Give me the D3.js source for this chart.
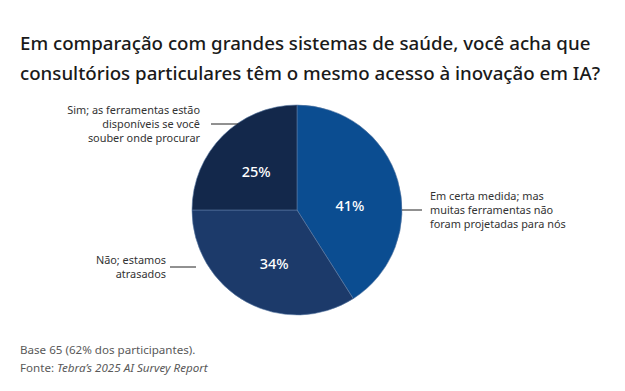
<!DOCTYPE html>
<html><head><meta charset="utf-8">
<script src="https://cdn.jsdelivr.net/npm/d3@7"></script>
<style>
body{margin:0;background:#fff;}
svg{display:block;font-family:"Noto Sans","Open Sans",sans-serif;}
</style></head>
<body>
<svg id="c" width="625" height="391"></svg>
<script>
const categories = [
  "Em certa medida; mas muitas ferramentas não foram projetadas para nós",
  "Não; estamos atrasados",
  "Sim; as ferramentas estão disponíveis se você souber onde procurar"
];
const values = [41, 34, 25];
const colors = ["#0b4d91", "#1c3a6a", "#13284b"];
const labelLines = [
  ["Em certa medida; mas", "muitas ferramentas não", "foram projetadas para nós"],
  ["Não; estamos", "atrasados"],
  ["Sim; as ferramentas estão", "disponíveis se você", "souber onde procurar"]
];
const titleLines = ["Em comparação com grandes sistemas de saúde, você acha que",
  "consultórios particulares têm o mesmo acesso à inovação em IA?"];

const svg = d3.select("#c");
const cx = 297, cy = 210, R = 105;

svg.append("g").selectAll("text").data(titleLines).join("text")
  .attr("x", 20).attr("y", (d,i) => 50 + i*30)
  .attr("font-size", 18.7).attr("font-weight", 500).attr("fill", "#1a1a1a").text(d => d);

const pie = d3.pie().sort(null).value(d => d)(values);
const arc = d3.arc().innerRadius(0).outerRadius(R);
const g = svg.append("g").attr("transform", `translate(${cx},${cy})`);
g.selectAll("path").data(pie).join("path")
  .attr("d", arc).attr("fill", (d,i) => colors[i])
  .attr("stroke", "#5a7aa5").attr("stroke-width", 0.6);

const lab = d3.arc().innerRadius(R*0.55).outerRadius(R*0.55);
const nudge = [[-2.5, 12], [5, 3.5], [0, 3]];
g.selectAll("text.pct").data(pie).join("text").attr("class","pct")
  .attr("transform", (d,i) => {
    const c = lab.centroid(d); return `translate(${c[0]+nudge[i][0]},${c[1]+nudge[i][1]})`;
  })
  .attr("text-anchor","middle").attr("dy","0.35em")
  .attr("fill","#fff").attr("font-size",14.5).attr("font-weight",500).text(d => d.data + "%");

const leaders = [
  {y: 210, x1: 402, x2: 422, tx: 430, anchor: "start"},
  {y: 267, x1: 196, x2: 170, tx: 166, anchor: "end"},
  {y: 124, x1: 238, x2: 211, tx: 200, anchor: "end"}
];
leaders.forEach((L, i) => {
  svg.append("line").attr("x1", L.x1).attr("x2", L.x2).attr("y1", L.y).attr("y2", L.y)
    .attr("stroke", "#222").attr("stroke-width", 1);
  const lines = labelLines[i];
  const lh = 14.3;
  const y0 = L.y - (lines.length-1)*lh/2;
  svg.append("g").selectAll("text").data(lines).join("text")
    .attr("x", L.tx).attr("y", (d,j) => y0 + j*lh).attr("dy","0.35em")
    .attr("text-anchor", L.anchor).attr("font-size", 10.9).attr("fill","#333").text(d => d);
});

svg.append("text").attr("x",20).attr("y",354).attr("font-size",11.6).attr("fill","#595959")
  .text("Base 65 (62% dos participantes).");
const f = svg.append("text").attr("x",20).attr("y",372).attr("font-size",11.6).attr("fill","#595959");
f.append("tspan").text("Fonte: ");
f.append("tspan").attr("font-style","italic").text("Tebra’s 2025 AI Survey Report");
</script>
</body></html>
